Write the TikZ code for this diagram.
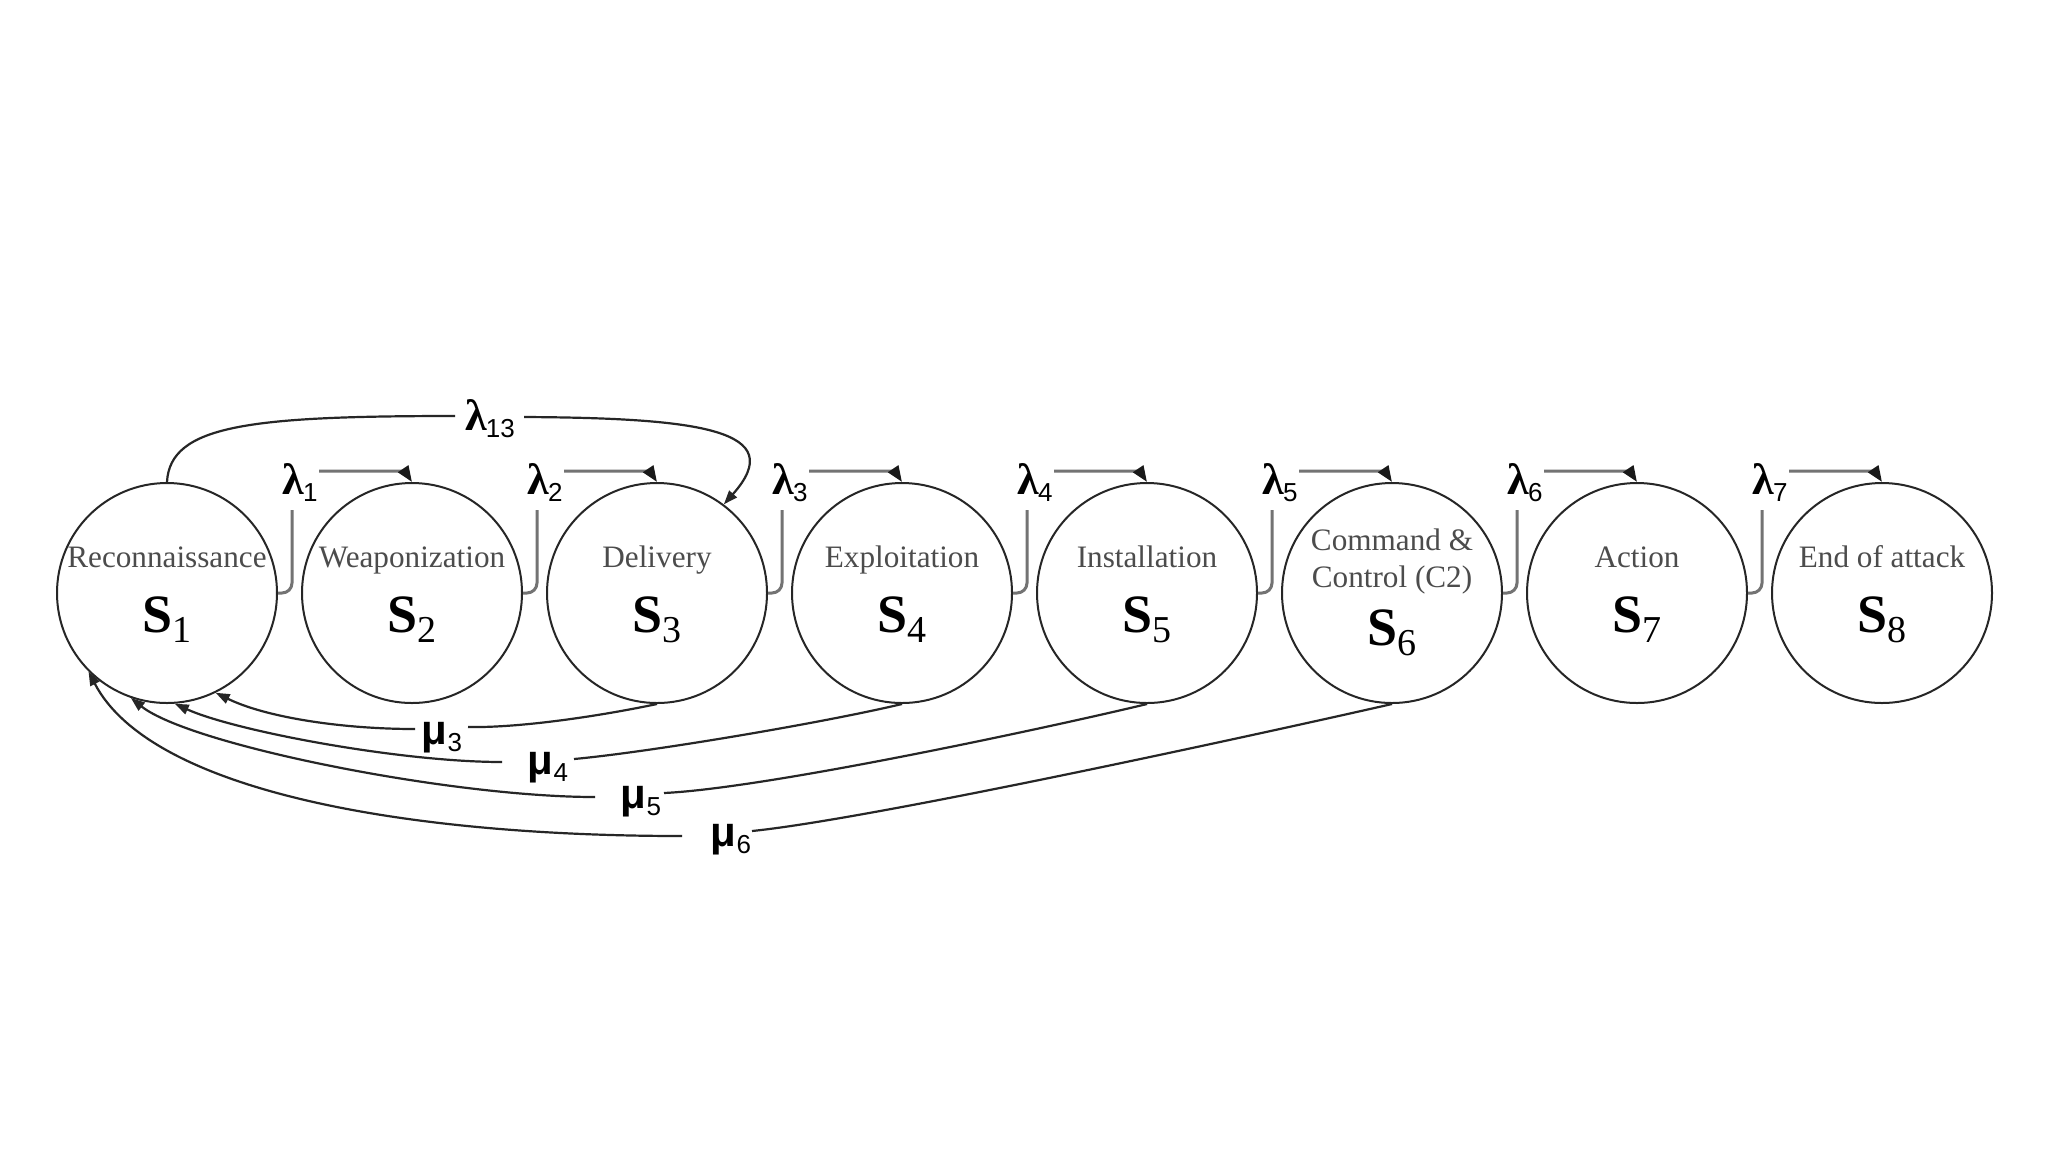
\documentclass[tikz,border=0pt]{standalone}
\usepackage{fontspec}
\setmainfont{Liberation Serif}
\newfontfamily\sansf{Liberation Sans}
\usetikzlibrary{arrows.meta}
\newcommand\Sym[1]{{\fontsize{27}{27}\selectfont\bfseries S}\raisebox{-5pt}{\fontsize{19}{19}\selectfont #1}}
\newcommand\lamb[1]{{\fontsize{22}{22}\selectfont\bfseries λ}\kern-0.5pt\raisebox{-3.5pt}{\sansf\fontsize{13}{13}\selectfont #1}}
\newcommand\mul[1]{{\sansf\bfseries\fontsize{21}{21}\selectfont μ}\raisebox{-3.5pt}{\sansf\fontsize{13}{13}\selectfont #1}}
\begin{document}
\begin{tikzpicture}[x=0.5pt,y=-0.5pt,
  state/.style={circle, draw=black!85, line width=1pt, minimum size=110pt, inner sep=0pt},
  stname/.style={font=\fontsize{15.6}{18}\selectfont, text=black!70, anchor=base, inner sep=0pt},
  stsym/.style={anchor=base, inner sep=0pt},
  lablbl/.style={anchor=base, inner sep=0pt},
  lamline/.style={draw=black!55, line width=1.5pt, rounded corners=5pt},
  lamtip/.style={-{Triangle[length=8pt,width=6pt,color=black!90]}},
  tip/.style={-{Triangle[length=7pt,width=5pt]}},
  muline/.style={draw=black!85, line width=1.1pt},
  longline/.style={draw=black!85, line width=1.1pt}
]
\fill[white] (0,0) rectangle (2048,1152);
\path[use as bounding box] (0,0) rectangle (2048,1152);

% states
\foreach \i/\x in {1/167,2/412,3/657,4/902,5/1147,6/1392,7/1637,8/1882}
  \node[state] (S\i) at (\x,593) {};

\node[stname] (n1) at (167,567) {Reconnaissance};
\node[stname] (n2) at (412,567) {Weaponization};
\node[stname] (n3) at (657,567) {Delivery};
\node[stname] (n4) at (902,567) {Exploitation};
\node[stname] (n5) at (1147,567) {Installation};
\node[stname] (n6a) at (1392,550) {Command \&};
\node[stname] (n6b) at (1392,587) {Control (C2)};
\node[stname] (n7) at (1637,567) {Action};
\node[stname] (n8) at (1882,567) {End of attack};

\foreach \i/\x in {1/167,2/412,3/657,4/902,5/1147,7/1637,8/1882}
  \node[stsym] (sym\i) at (\x,632) {\Sym{\i}};
\node[stsym] (sym6) at (1392,645) {\Sym{6}};

% forward transitions lambda_i
\foreach \i/\x [evaluate=\i as \j using int(\i+1)] in {1/167,2/412,3/657,4/902,5/1147,6/1392,7/1637} {
  \node[lablbl] (L\i) at (\x+133,494) {\lamb{\i}};
  \draw[lamline] (S\i.east) -| (\x+125,510);
  \draw[lamline,lamtip] (\x+152,471) -- (\x+226,471) .. controls (\x+235,471) and (\x+241,476) .. (S\j.north);
}

% lambda_13
\node[lablbl] (L13) at (490,430) {\lamb{13}};
\draw[longline] (S1.north) .. controls (170,425) and (250,416) .. (455,416);
\draw[longline,tip] (524,417) .. controls (700,418) and (790,430) .. (S3.53);

% backward transitions mu_k
\node[lablbl] (M3) at (442,744) {\mul{3}};
\node[lablbl] (M4) at (548,774) {\mul{4}};
\node[lablbl] (M5) at (641,808) {\mul{5}};
\node[lablbl] (M6) at (731,846) {\mul{6}};

\draw[muline] (S3.south) .. controls (600,716) and (520,728) .. (468,727);
\draw[muline,tip] (415,729) .. controls (340,729) and (265,717) .. (S1.-64);

\draw[muline] (S4.south) .. controls (822,723) and (650,752) .. (574,759);
\draw[muline,tip] (502,762) .. controls (400,762) and (235,731) .. (S1.-86);

\draw[muline] (S5.south) .. controls (1060,725) and (770,788) .. (664,793);
\draw[muline,tip] (595,797) .. controls (450,797) and (190,745) .. (S1.-109);

\draw[muline] (S6.south) .. controls (1300,725) and (880,818) .. (752,831);
\draw[muline,tip] (682,836) .. controls (400,836) and (150,790) .. (S1.-135);
\end{tikzpicture}
\end{document}
